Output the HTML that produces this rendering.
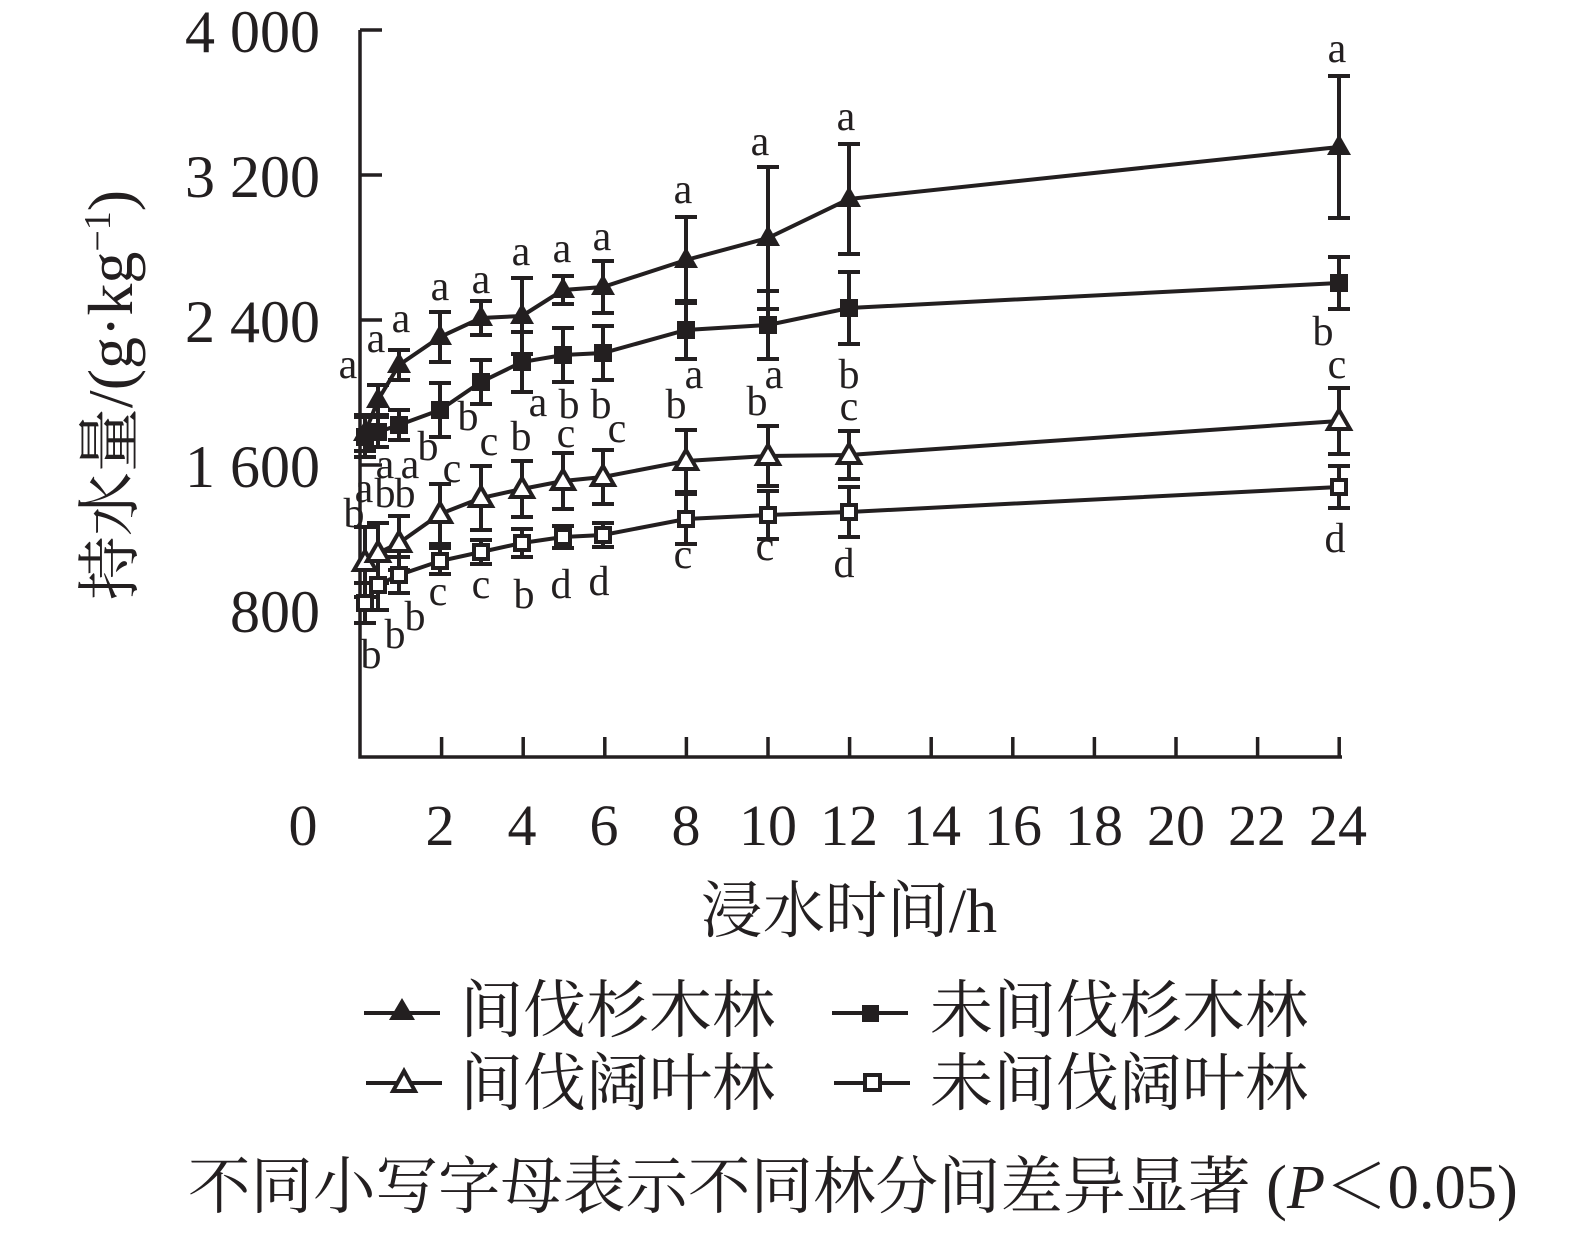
<!DOCTYPE html>
<html><head><meta charset="utf-8"><style>
body{margin:0;background:#fff}
svg{display:block}
text{fill:#231f20}
.t{font-family:"Liberation Serif","Noto Serif CJK SC",serif;font-size:58px}
.l{font-family:"Liberation Serif",serif;font-size:42px;text-anchor:middle}
.c{font-family:"Liberation Serif","Noto Serif CJK SC",serif;font-size:62px}
</style></head><body>
<svg width="1575" height="1234" viewBox="0 0 1575 1234">
<g stroke="#231f20" stroke-width="3.5" fill="none">
<path d="M360 30V757H1342"/>
<path d="M360 30h22M360 175h22M360 320h22M360 465h22M360 610h22"/>
<path d="M441.6 757v-20M523.2 757v-20M604.8 757v-20M686.4 757v-20M768 757v-20M849.6 757v-20M931.2 757v-20M1012.8 757v-20M1094.4 757v-20M1176 757v-20M1257.6 757v-20M1339.2 757v-20"/>
</g>
<g class="t" text-anchor="end" style="font-size:60px">
<text x="320" y="52">4 000</text><text x="320" y="197">3 200</text><text x="320" y="342">2 400</text><text x="320" y="487">1 600</text><text x="320" y="632">800</text>
</g>
<g class="t" text-anchor="middle">
<text x="303" y="845">0</text><text x="440" y="845">2</text><text x="522" y="845">4</text><text x="604" y="845">6</text><text x="686" y="845">8</text><text x="768" y="845">10</text><text x="849" y="845">12</text><text x="932" y="845">14</text><text x="1013" y="845">16</text><text x="1094" y="845">18</text><text x="1176" y="845">20</text><text x="1257" y="845">22</text><text x="1338" y="845">24</text>
</g>
<text class="c" x="849" y="932" text-anchor="middle">浸水时间/h</text>
<text class="c" transform="translate(132,395) rotate(-90)" text-anchor="middle" style="font-size:64px">持水量/(g·kg<tspan font-size="38" dy="-22">−1</tspan><tspan dy="22">)</tspan></text>
<g id="plot"></g>
<g class="l">
<text x="348" y="378">a</text><text x="376" y="352">a</text><text x="401" y="332">a</text><text x="440" y="300">a</text><text x="481" y="293">a</text><text x="521" y="265">a</text><text x="562" y="262">a</text><text x="602" y="250">a</text><text x="683" y="203">a</text><text x="760" y="155">a</text><text x="846" y="130">a</text><text x="1337" y="62">a</text>
<text x="468" y="430">b</text><text x="489" y="455">c</text><text x="428" y="460">b</text><text x="452" y="482">c</text><text x="538" y="416">a</text><text x="521" y="450">b</text><text x="569" y="418">b</text><text x="566" y="447">c</text><text x="601" y="418">b</text><text x="617" y="442">c</text><text x="676" y="418">b</text><text x="694" y="388">a</text><text x="757" y="415">b</text><text x="774" y="388">a</text><text x="849" y="388">b</text><text x="849" y="420">c</text><text x="1323" y="345">b</text><text x="1337" y="378">c</text>
<text x="385" y="478">a</text><text x="410" y="478">a</text><text x="364" y="502">a</text><text x="385" y="507">b</text><text x="405" y="507">b</text><text x="354" y="527">b</text>
<text x="438" y="605">c</text><text x="481" y="598">c</text><text x="524" y="608">b</text><text x="561" y="598">d</text><text x="599" y="595">d</text><text x="683" y="568">c</text><text x="765" y="560">c</text><text x="844" y="577">d</text><text x="1335" y="552">d</text><text x="371" y="668">b</text><text x="395" y="648">b</text><text x="415" y="630">b</text>
</g>
<g stroke="#231f20" stroke-width="4">
<path d="M364 1013h76M832 1013h76M366 1083h76M834 1083h76"/>
</g>
<path d="M402 998l13 22h-26z" fill="#231f20"/>
<rect x="862" y="1005" width="17" height="17" fill="#231f20"/>
<path d="M404 1071l11 20h-22z" fill="#fff" stroke="#231f20" stroke-width="4"/>
<rect x="865" y="1075" width="15" height="15" fill="#fff" stroke="#231f20" stroke-width="4"/>
<g class="c">
<text x="460" y="1032" style="font-size:63px">间伐杉木林</text>
<text x="930" y="1032" style="font-size:63px">未间伐杉木林</text>
<text x="460" y="1105" style="font-size:63px">间伐阔叶林</text>
<text x="930" y="1105" style="font-size:63px">未间伐阔叶林</text>
</g>
<text class="c" x="188" y="1208" style="font-size:62.5px">不同小写字母表示不同林分间差异显著 (<tspan font-style="italic">P</tspan>＜0.05)</text>
</svg>
<script>
const D=[
 [[365,433,18],[378,400,15],[399,365,15],[440,337,25],[481,318,17],[522,316,38],[563,290,14],[603,287,26],[686,260,43],[768,238,71],[849,199,55],[1339,147,71]],
 [[365,437,20],[378,432,15],[399,425,15],[440,410,27],[481,382,22],[522,362,30],[563,355,27],[603,353,27],[686,330,29],[768,325,34],[849,308,36],[1339,283,26]],
 [[365,562,35],[378,553,30],[399,543,27],[440,514,30],[481,498,32],[522,489,28],[563,481,28],[603,477,27],[686,461,31],[768,456,30],[849,455,24],[1339,421,33]],
 [[365,603,20],[378,585,25],[399,575,18],[440,561,13],[481,552,12],[522,543,14],[563,537,11],[603,535,12],[686,519,25],[768,515,24],[849,512,25],[1339,487,21]]];
let s='';const k='#231f20';
D.forEach((ser,i)=>{
 s+=`<polyline points="${ser.map(p=>p[0]+','+p[1]).join(' ')}" fill="none" stroke="${k}" stroke-width="4"/>`;
 ser.forEach(([x,y,e])=>{s+=`<path d="M${x} ${y-e}V${y+e}M${x-11} ${y-e}h22M${x-11} ${y+e}h22" stroke="${k}" stroke-width="4"/>`;});
});
D.forEach((ser,i)=>{ser.forEach(([x,y])=>{
 if(i==0)s+=`<path d="M${x} ${y-13}l12 21h-24z" fill="${k}"/>`;
 if(i==1)s+=`<rect x="${x-9}" y="${y-9}" width="18" height="18" fill="${k}"/>`;
 if(i==2)s+=`<path d="M${x} ${y-11}l11 19h-22z" fill="#fff" stroke="${k}" stroke-width="4"/>`;
 if(i==3)s+=`<rect x="${x-7}" y="${y-7}" width="14" height="14" fill="#fff" stroke="${k}" stroke-width="4"/>`;
});});
document.getElementById('plot').innerHTML=s;
</script>
</body></html>
